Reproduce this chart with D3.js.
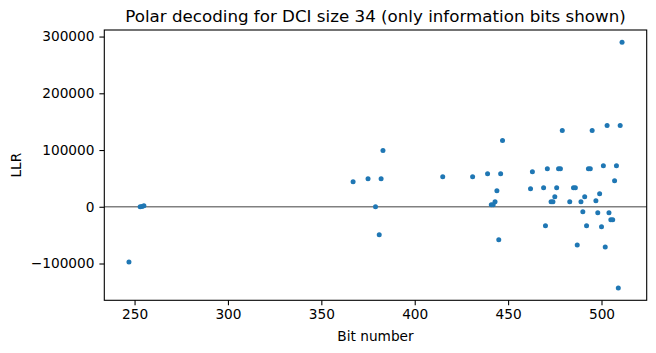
<!DOCTYPE html>
<html>
<head>
<meta charset="utf-8">
<script src="https://cdn.jsdelivr.net/npm/d3@7"></script>
<style>
  body { margin: 0; background: #fff; }
  text { font-family: "DejaVu Sans", sans-serif; fill: #000; }
</style>
</head>
<body>
<div id="chart"></div>
<script>
// information bit positions and their LLRs
const bits = [247, 253, 254, 255, 367, 375, 379, 381, 382, 383,
              415, 431, 439, 441, 442, 443, 444, 445, 446, 447,
              462, 463, 469, 470, 471, 473, 474, 475, 476, 477,
              478, 479, 483, 485, 486, 487, 489, 490, 491, 492,
              493, 494, 495, 497, 498, 499, 500, 501, 502, 503,
              504, 505, 506, 507, 508, 509, 510, 511];
const llrs = [-97200, 0, 500, 2000, 44200, 49500, 0, -49500, 49500, 99000,
              53000, 53000, 58300, 3500, 3500, 8800, 28300, -58300, 58300, 116600,
              31800, 61900, 33600, -33600, 67200, 8800, 8800, 17700, 33600, 67200,
              67200, 134300, 8800, 33600, 33600, -67200, 8800, -8800, 17700, -33600,
              67200, 67200, 134300, 10600, -10600, 23000, -35300, 72500, -70700, 143200,
              -10600, -23000, -23000, 46000, 72500, -143200, 143200, 289900];
const xTicks = [250, 300, 350, 400, 450, 500];
const yTicks = [-100000, 0, 100000, 200000, 300000];

const width = 656, height = 353;
const margin = {top: 30, right: 9.3, bottom: 52.7, left: 104.3};
const plotW = width - margin.left - margin.right;
const plotH = height - margin.top - margin.bottom;

let svg = d3.select("#chart")
    .append("svg")
    .attr("width", width)
    .attr("height", height);

let g = svg.append("g")
    .attr("transform", `translate(${margin.left}, ${margin.top})`);

// matplotlib style 5% margins
let xExt = d3.extent(bits), yExt = d3.extent(llrs);
let xPad = (xExt[1] - xExt[0]) * 0.05, yPad = (yExt[1] - yExt[0]) * 0.05;

let x = d3.scaleLinear()
    .domain([xExt[0] - xPad, xExt[1] + xPad])
    .range([0, plotW]);
let y = d3.scaleLinear()
    .domain([yExt[0] - yPad, yExt[1] + yPad])
    .range([plotH, 0]);

// zero line
g.append("line")
    .attr("x1", 0).attr("x2", plotW)
    .attr("y1", y(0)).attr("y2", y(0))
    .attr("stroke", "#808080")
    .attr("stroke-width", 1.4);

let data = bits.map((b, i) => ({bit: b, llr: llrs[i]}));
g.selectAll("circle.pt")
    .data(data)
    .enter()
    .append("circle")
    .attr("class", "pt")
    .attr("cx", d => x(d.bit))
    .attr("cy", d => y(d.llr))
    .attr("r", 2.5)
    .attr("fill", "#1f77b4");

// axes
let xAxis = g.append("g")
    .attr("transform", `translate(0, ${plotH})`)
    .call(d3.axisBottom(x).tickValues(xTicks).tickSize(4.9).tickPadding(4.5).tickFormat(d3.format("d")));
let yAxis = g.append("g")
    .call(d3.axisLeft(y).tickValues(yTicks).tickSize(4.9).tickPadding(4.9).tickFormat(d => d3.format("d")(d).replace("-", "\u2212")));

[xAxis, yAxis].forEach(a => {
    a.select(".domain").remove();
    a.selectAll("line").attr("stroke", "#000").attr("stroke-width", 1.1);
    a.selectAll("text").style("font-size", "13.7px").style("font-family", "DejaVu Sans");
});

// frame
g.append("rect")
    .attr("width", plotW).attr("height", plotH)
    .attr("fill", "none")
    .attr("stroke", "#000")
    .attr("stroke-width", 1.1);

// title and labels
svg.append("text")
    .attr("x", margin.left + plotW / 2)
    .attr("y", 22)
    .style("text-anchor", "middle")
    .style("font-size", "16.7px")
    .text("Polar decoding for DCI size 34 (only information bits shown)");

svg.append("text")
    .attr("x", margin.left + plotW / 2)
    .attr("y", 340.5)
    .style("text-anchor", "middle")
    .style("font-size", "13.7px")
    .text("Bit number");

svg.append("text")
    .attr("transform", `translate(21, ${margin.top + plotH / 2}) rotate(-90)`)
    .style("text-anchor", "middle")
    .style("font-size", "13.7px")
    .text("LLR");
</script>
</body>
</html>
